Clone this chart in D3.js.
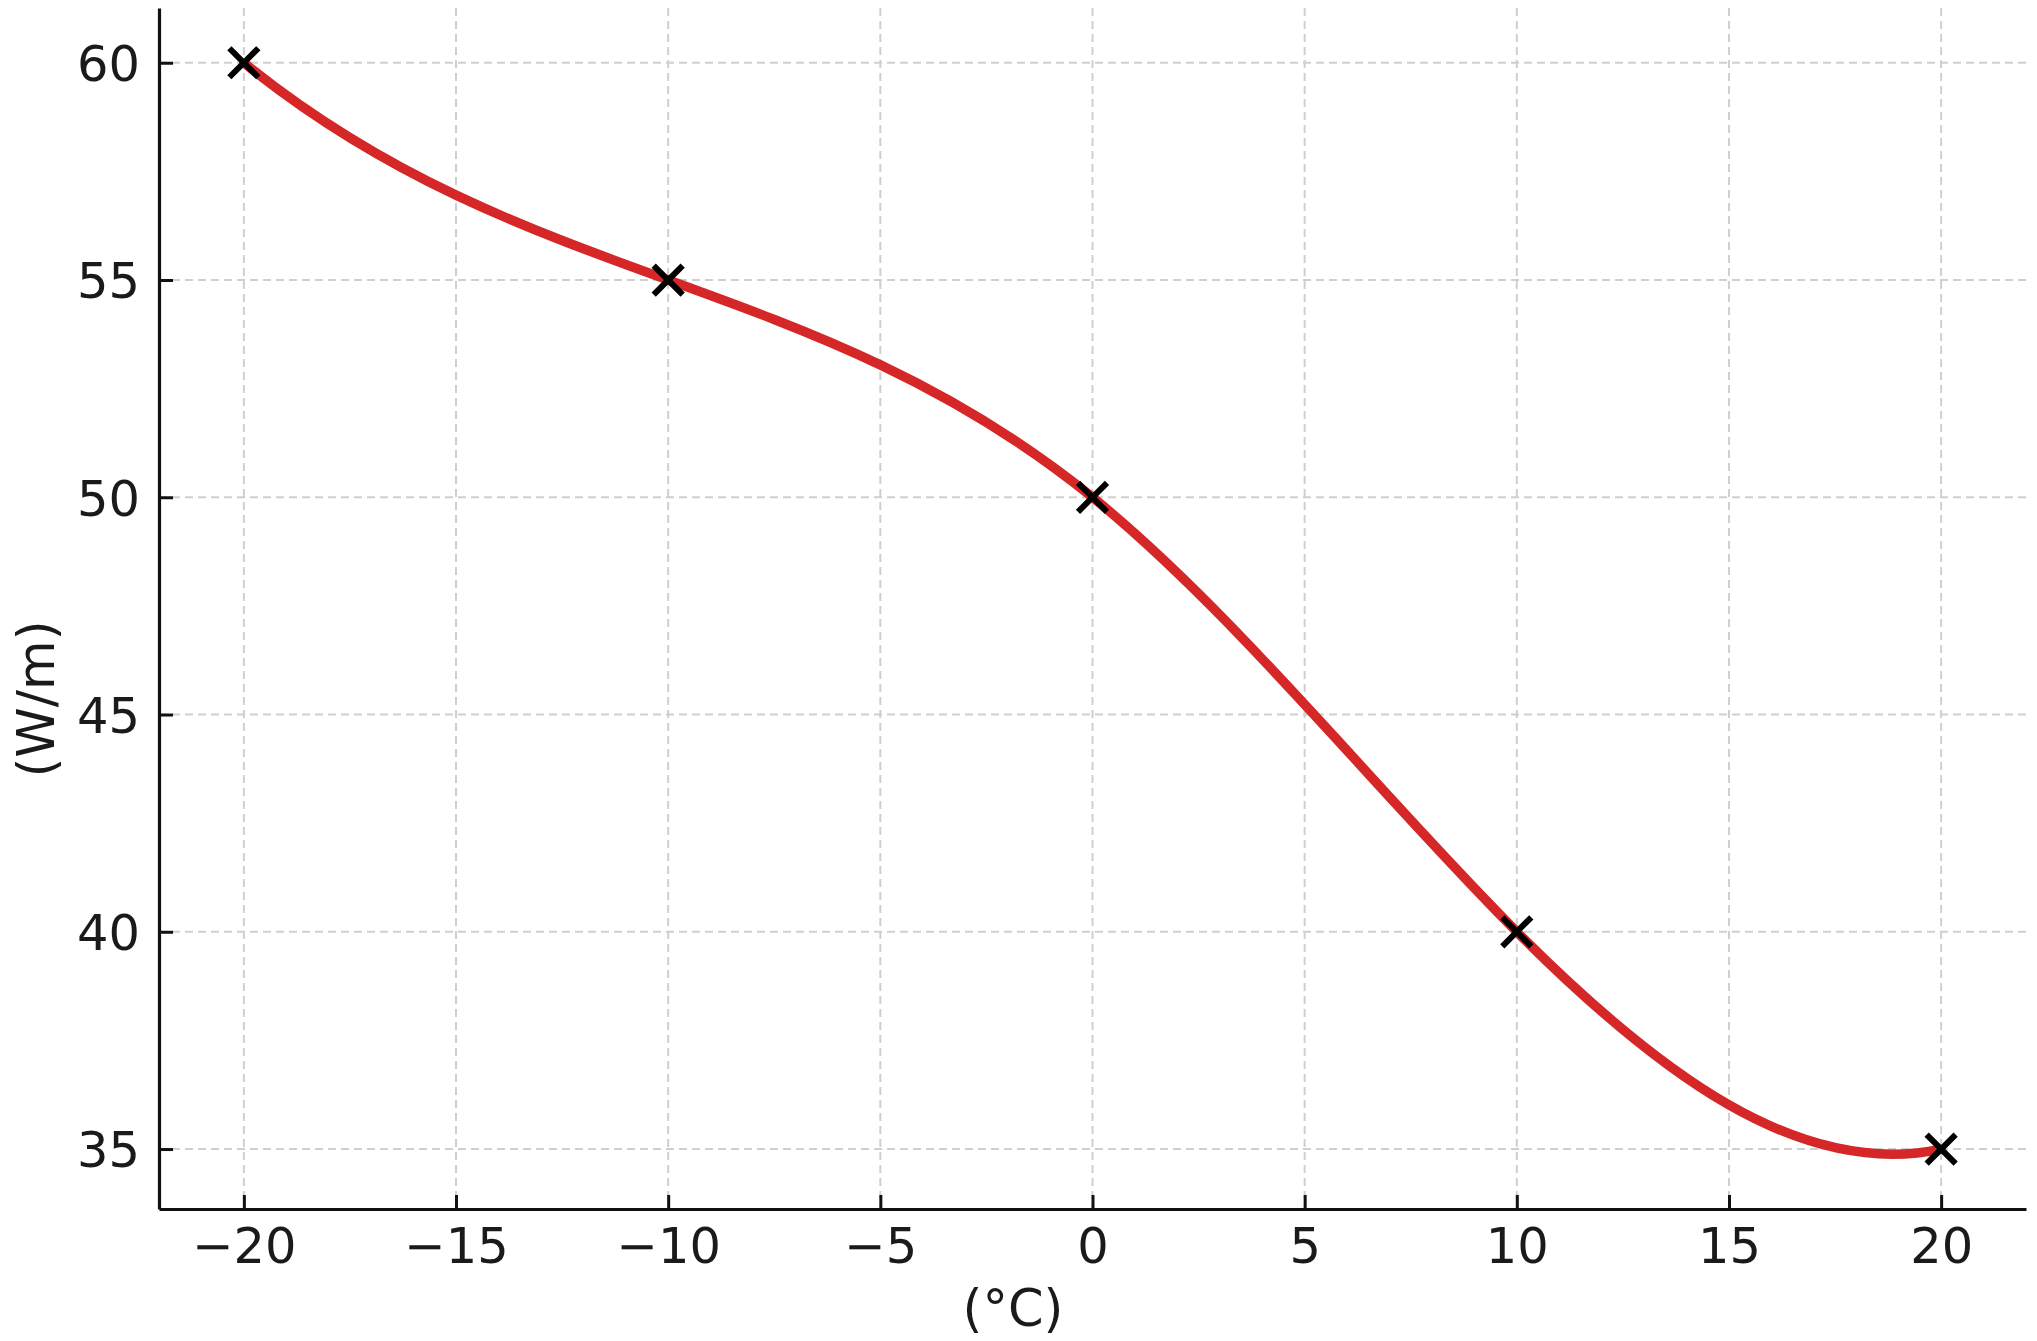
<!DOCTYPE html>
<html><head><meta charset="utf-8">
<script src="https://cdn.jsdelivr.net/npm/d3@7"></script>
<style>html,body{margin:0;padding:0;background:#fff;}svg{display:block;}</style>
</head><body>
<svg id="chart" width="2037" height="1341"></svg>
<script>
const temperatures = [-20, -10, 0, 10, 20];
const powerValues = [60, 55, 50, 40, 35];
const xTicks = [-20, -15, -10, -5, 0, 5, 10, 15, 20];
const yTicks = [35, 40, 45, 50, 55, 60];
const xLabel = "(°C)";
const yLabel = "(W/m)";

(function () {
const pL = 159, pR = 2026, pT = 8, pB = 1209;
const x = d3.scaleLinear().domain([-22, 22]).range([pL, pR]);
const y = d3.scaleLinear().domain([33.62, 61.26]).range([pB, pT]);
const svg = d3.select("#chart");
const font = "DejaVu Sans, sans-serif";
const fs = 49.5;
const fsLab = 51;
const fmt = v => (v < 0 ? "\u2212" + Math.abs(v) : String(v));

// grid
svg.append("g").selectAll("line").data(xTicks).join("line")
  .attr("x1", d => x(d)).attr("x2", d => x(d)).attr("y1", pT).attr("y2", pB)
  .attr("stroke", "#cfcfcf").attr("stroke-width", 2).attr("stroke-dasharray", "8,5");
svg.append("g").selectAll("line").data(yTicks).join("line")
  .attr("y1", d => y(d)).attr("y2", d => y(d)).attr("x1", pL).attr("x2", pR)
  .attr("stroke", "#cfcfcf").attr("stroke-width", 2).attr("stroke-dasharray", "8,5");

// not-a-knot cubic spline curve for d3
function curveNotAKnot(context) {
  let xs, ys;
  return {
    areaStart() {}, areaEnd() {},
    lineStart() { xs = []; ys = []; },
    point(px, py) { xs.push(+px); ys.push(+py); },
    lineEnd() {
      const n = xs.length;
      if (n === 0) return;
      context.moveTo(xs[0], ys[0]);
      if (n < 4) { for (let i = 1; i < n; i++) context.lineTo(xs[i], ys[i]); return; }
      const h = []; for (let i = 0; i < n - 1; i++) h.push(xs[i + 1] - xs[i]);
      const A = [], b = [];
      for (let i = 0; i < n; i++) { A.push(new Array(n).fill(0)); b.push(0); }
      A[0][0] = h[1]; A[0][1] = -(h[0] + h[1]); A[0][2] = h[0];
      for (let i = 1; i < n - 1; i++) {
        A[i][i - 1] = h[i - 1]; A[i][i] = 2 * (h[i - 1] + h[i]); A[i][i + 1] = h[i];
        b[i] = 6 * ((ys[i + 1] - ys[i]) / h[i] - (ys[i] - ys[i - 1]) / h[i - 1]);
      }
      A[n - 1][n - 3] = h[n - 2]; A[n - 1][n - 2] = -(h[n - 3] + h[n - 2]); A[n - 1][n - 1] = h[n - 3];
      for (let c = 0; c < n; c++) {
        let p = c; for (let r = c + 1; r < n; r++) if (Math.abs(A[r][c]) > Math.abs(A[p][c])) p = r;
        [A[c], A[p]] = [A[p], A[c]]; [b[c], b[p]] = [b[p], b[c]];
        for (let r = c + 1; r < n; r++) {
          const f = A[r][c] / A[c][c];
          for (let k = c; k < n; k++) A[r][k] -= f * A[c][k];
          b[r] -= f * b[c];
        }
      }
      const M = new Array(n).fill(0);
      for (let r = n - 1; r >= 0; r--) {
        let s = b[r]; for (let k = r + 1; k < n; k++) s -= A[r][k] * M[k];
        M[r] = s / A[r][r];
      }
      const m = [];
      for (let i = 0; i < n - 1; i++) m.push((ys[i + 1] - ys[i]) / h[i] - h[i] * (2 * M[i] + M[i + 1]) / 6);
      m.push((ys[n - 1] - ys[n - 2]) / h[n - 2] + h[n - 2] * (M[n - 2] + 2 * M[n - 1]) / 6);
      for (let i = 0; i < n - 1; i++) {
        const d = h[i] / 3;
        context.bezierCurveTo(xs[i] + d, ys[i] + m[i] * d, xs[i + 1] - d, ys[i + 1] - m[i + 1] * d, xs[i + 1], ys[i + 1]);
      }
    }
  };
}

const pts = temperatures.map((t, i) => [t, powerValues[i]]);
const line = d3.line().x(d => x(d[0])).y(d => y(d[1])).curve(curveNotAKnot);
svg.append("path").datum(pts).attr("d", line)
  .attr("fill", "none").attr("stroke", "#d62728").attr("stroke-width", 9.5).attr("stroke-linecap", "butt");

// markers
const ms = 14.5;
const mk = svg.append("g").selectAll("g").data(pts).join("g")
  .attr("transform", d => `translate(${x(d[0])},${y(d[1])})`);
mk.append("path").attr("d", `M${-ms},${-ms}L${ms},${ms}M${-ms},${ms}L${ms},${-ms}`)
  .attr("stroke", "#000").attr("stroke-width", 6).attr("fill", "none");

// axes
const xAxis = d3.axisBottom(x).tickValues(xTicks).tickFormat(fmt).tickSizeInner(-14).tickSizeOuter(0).tickPadding(0);
const gx = svg.append("g").attr("transform", `translate(0,${pB})`).call(xAxis);
gx.select(".domain").attr("stroke", "#111").attr("stroke-width", 3.2);
gx.selectAll(".tick line").attr("stroke", "#111").attr("stroke-width", 3);
gx.selectAll(".tick text").attr("y", 54).attr("dy", null).attr("font-family", font).attr("font-size", fs).attr("fill", "#1a1a1a");

const yAxis = d3.axisLeft(y).tickValues(yTicks).tickFormat(fmt).tickSizeInner(-14).tickSizeOuter(0).tickPadding(0);
const gy = svg.append("g").attr("transform", `translate(${pL},0)`).call(yAxis);
gy.select(".domain").attr("stroke", "#111").attr("stroke-width", 3.2);
gy.selectAll(".tick line").attr("stroke", "#111").attr("stroke-width", 3);
gy.selectAll(".tick text").attr("x", -19).attr("dy", "0.36em").attr("font-family", font).attr("font-size", fs).attr("fill", "#1a1a1a");

svg.append("text").attr("x", 1013).attr("y", 1326).attr("text-anchor", "middle")
  .attr("font-family", font).attr("font-size", fsLab).attr("fill", "#1a1a1a").text(xLabel);
svg.append("text").attr("transform", `translate(54,699) rotate(-90)`).attr("text-anchor", "middle")
  .attr("font-family", font).attr("font-size", fsLab).attr("fill", "#1a1a1a").text(yLabel);
})();
</script>
</body></html>
